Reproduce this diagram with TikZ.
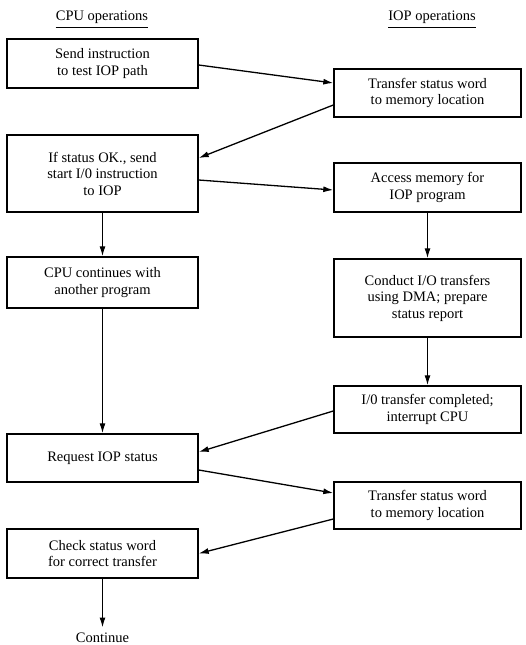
\documentclass[tikz,border=0pt]{standalone}
\usepackage{fontspec}
\setmainfont{Liberation Serif}
\usetikzlibrary{arrows.meta}
\begin{document}
\begin{tikzpicture}[x=1pt,y=-1pt,
  box/.style={draw, line width=1.4pt, minimum width=191pt, align=center, inner sep=0pt,
    font=\fontsize{14.5}{16.5}\selectfont},
  rbox/.style={box, minimum width=187pt},
  hdr/.style={anchor=base, inner sep=0pt, font=\fontsize{14.5}{17}\selectfont},
  arr/.style={line width=1.3pt, -{Latex[length=10pt,width=6pt]}}
]
\useasboundingbox (0,0) rectangle (526,645);
% headers
\node[hdr] (hcpu) at (102,20) {CPU operations};
\node[hdr] (hiop) at (432,20) {IOP operations};
\draw[line width=1pt] ([yshift=-7pt]hcpu.base west) -- ([yshift=-7pt]hcpu.base east);
\draw[line width=1pt] ([yshift=-7pt]hiop.base west) -- ([yshift=-7pt]hiop.base east);
% CPU column
\node[box, minimum height=49pt] (L1) at (102.5,63.5) {Send instruction\\to test IOP path};
\node[box, minimum height=77pt] (L2) at (102.5,173.5) {If status OK., send\\start I/0 instruction\\to IOP};
\node[box, minimum height=51pt] (L3) at (102.5,282.5) {CPU continues with\\another program};
\node[box, minimum height=48pt] (L4) at (102.5,458) {Request IOP status};
\node[box, minimum height=49pt] (L5) at (102.5,553.5) {Check status word\\for correct transfer};
\node[inner sep=0pt, font=\fontsize{14.5}{16.5}\selectfont, anchor=base] (cont) at (102.5,642.5) {Continue};
% IOP column
\node[rbox, minimum height=48pt] (R1) at (427.5,93) {Transfer status word\\to memory location};
\node[rbox, minimum height=49pt] (R2) at (427.5,187.5) {Access memory for\\IOP program};
\node[rbox, minimum height=78pt] (R3) at (427.5,298) {Conduct I/O transfers\\using DMA; prepare\\status report};
\node[rbox, minimum height=47pt] (R4) at (427.5,409.5) {I/0 transfer completed;\\interrupt CPU};
\node[rbox, minimum height=47pt] (R5) at (427.5,505.5) {Transfer status word\\to memory location};
% connectors
\draw[arr] ([yshift=-1.5pt]L1.east) -- ([yshift=10pt]R1.west);
\draw[arr] ([yshift=-12pt]R1.west) -- ([yshift=15.5pt]L2.east);
\draw[arr] ([yshift=-6.5pt]L2.east) -- ([yshift=-2.5pt]R2.west);
\draw[arr] (L2.south) -- (L3.north);
\draw[arr] (R2.south) -- (R3.north);
\draw[arr] (R3.south) -- (R4.north);
\draw[arr] (L3.south) -- (L4.north);
\draw[arr] ([yshift=-1.5pt]R4.west) -- ([yshift=6pt]L4.east);
\draw[arr] ([yshift=-12pt]L4.east) -- ([yshift=12.5pt]R5.west);
\draw[arr] ([yshift=-13.5pt]R5.west) -- ([yshift=0pt]L5.east);
\draw[arr] (L5.south) -- ([yshift=15pt]cont.base);
\end{tikzpicture}
\end{document}
